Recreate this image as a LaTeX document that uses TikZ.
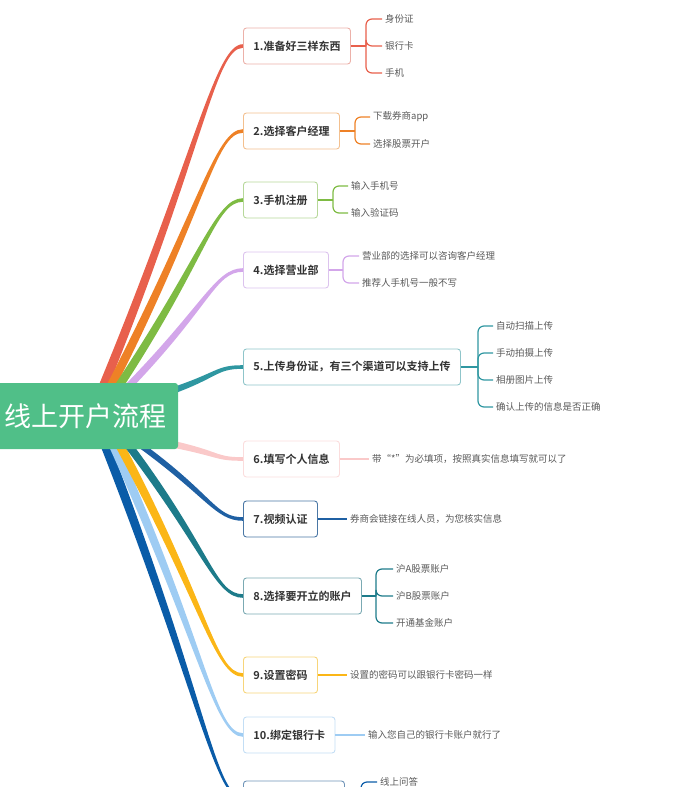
\documentclass[tikz,border=0pt]{standalone}
\usepackage{fontspec}
\setmainfont{Noto Sans CJK SC}[BoldFont={Noto Sans CJK SC Bold}]
\usetikzlibrary{calc,positioning,backgrounds}

\definecolor{hubc}{HTML}{50BF88}
\definecolor{c1}{HTML}{E8604C}\definecolor{b1}{HTML}{ECB1A9}
\definecolor{c2}{HTML}{EE8126}\definecolor{b2}{HTML}{F3C08F}
\definecolor{c3}{HTML}{7EBB43}\definecolor{b3}{HTML}{B7D89A}
\definecolor{c4}{HTML}{D3A6EA}\definecolor{b4}{HTML}{DCC3EE}
\definecolor{c5}{HTML}{2F97A1}\definecolor{b5}{HTML}{8FC5CA}
\definecolor{c6}{HTML}{FAC9C9}\definecolor{b6}{HTML}{FBDDDD}
\definecolor{c7}{HTML}{1F60A3}\definecolor{b7}{HTML}{4A77A5}
\definecolor{c8}{HTML}{1D7B8A}\definecolor{b8}{HTML}{7BAAB3}
\definecolor{c9}{HTML}{FBB617}\definecolor{b9}{HTML}{F7D57A}
\definecolor{c10}{HTML}{9ECCF3}\definecolor{b10}{HTML}{C3DEF5}
\definecolor{c11}{HTML}{0A5CA8}\definecolor{b11}{HTML}{6F94B8}

\tikzset{
  hub/.style={fill=hubc, text=white, rounded corners=3pt, minimum width=184pt,
    minimum height=66pt, inner sep=0pt, font=\fontsize{27}{30}\selectfont},
  stage/.style={draw=#1, fill=white, rounded corners=3pt, line width=0.9pt,
    minimum height=36pt, inner xsep=10pt, anchor=west, text=black!80,
    font=\fontsize{11}{13}\selectfont\bfseries},
  item/.style={anchor=west, inner xsep=3pt, text=black!65,
    font=\fontsize{9.5}{11}\selectfont},
  twig/.style={draw=#1, line width=1.2pt, rounded corners=6pt},
}

% tapered branch: colour, start, target node, half width at the start
\newcommand\limb[4]{%
  \fill[#1] ($(#2)+(#4)$)
    .. controls ($(#2)!0.7!(#3.west)+0.8*(#4)$) and ($(#3.west)+(-28,1.8)$) .. ($(#3.west)+(0,1.8)$)
    -- ($(#3.west)+(0,-1.8)$)
    .. controls ($(#3.west)+(-28,-1.8)$) and ($(#2)!0.7!(#3.west)-0.8*(#4)$) .. ($(#2)-(#4)$) -- cycle;}

\begin{document}
\begin{tikzpicture}[x=1pt,y=-1pt]
  \useasboundingbox (0,0) rectangle (674,787);

  % root
  \node[hub] (flow) at (86,416) {线上开户流程};

  % steps
  \node[stage=b1] (s1) at (243,46) {1.准备好三样东西};
  \node[stage=b2] (s2) at (243,131) {2.选择客户经理};
  \node[stage=b3] (s3) at (243,200) {3.手机注册};
  \node[stage=b4] (s4) at (243,270) {4.选择营业部};
  \node[stage=b5] (s5) at (243,367) {5.上传身份证，有三个渠道可以支持上传};
  \node[stage=b6] (s6) at (243,459) {6.填写个人信息};
  \node[stage=b7] (s7) at (243,519) {7.视频认证};
  \node[stage=b8] (s8) at (243,596) {8.选择要开立的账户};
  \node[stage=b9] (s9) at (243,675) {9.设置密码};
  \node[stage=b10] (s10) at (243,735) {10.绑定银行卡};
  \node[stage=b11, minimum width=101pt] (s11) at (243,799) {};

  % details
  \node[item] (s1a) at (382,19) {身份证};
  \node[item] (s1b) at (382,46) {银行卡};
  \node[item] (s1c) at (382,73) {手机};
  \node[item] (s2a) at (370,117) {下载券商app};
  \node[item] (s2b) at (370,144) {选择股票开户};
  \node[item] (s3a) at (348,186) {输入手机号};
  \node[item] (s3b) at (348,213) {输入验证码};
  \node[item] (s4a) at (359,256) {营业部的选择可以咨询客户经理};
  \node[item] (s4b) at (359,283) {推荐人手机号一般不写};
  \node[item] (s5a) at (493,326) {自动扫描上传};
  \node[item] (s5b) at (493,353) {手动拍摄上传};
  \node[item] (s5c) at (493,380) {相册图片上传};
  \node[item] (s5d) at (493,407) {确认上传的信息是否正确};
  \node[item] (s6a) at (369,459) {带“*”为必填项，按照真实信息填写就可以了};
  \node[item] (s7a) at (347,519) {券商会链接在线人员，为您核实信息};
  \node[item] (s8a) at (393,569) {沪A股票账户};
  \node[item] (s8b) at (393,596) {沪B股票账户};
  \node[item] (s8c) at (393,623) {开通基金账户};
  \node[item] (s9a) at (347,675) {设置的密码可以跟银行卡密码一样};
  \node[item] (s10a) at (365,735) {输入您自己的银行卡账户就行了};
  \node[item] (s11a) at (377,782) {线上问答};

  % brackets
  \coordinate (j1) at (366,46);
  \coordinate (j2) at (355,131);
  \coordinate (j3) at (333,200);
  \coordinate (j4) at (343,270);
  \coordinate (j5) at (478,367);
  \coordinate (j8) at (376,596);
  \coordinate (j11) at (361,799);
  \draw[twig=c1] (s1.east) -- (j1);
  \foreach \k in {a,b,c} \draw[twig=c1] (j1) |- (s1\k.west);
  \draw[twig=c2] (s2.east) -- (j2);
  \foreach \k in {a,b} \draw[twig=c2] (j2) |- (s2\k.west);
  \draw[twig=c3] (s3.east) -- (j3);
  \foreach \k in {a,b} \draw[twig=c3] (j3) |- (s3\k.west);
  \draw[twig=c4] (s4.east) -- (j4);
  \foreach \k in {a,b} \draw[twig=c4] (j4) |- (s4\k.west);
  \draw[twig=c5] (s5.east) -- (j5);
  \foreach \k in {a,b,c,d} \draw[twig=c5] (j5) |- (s5\k.west);
  \draw[twig=c6] (s6.east) -- (s6a.west);
  \draw[twig=c7] (s7.east) -- (s7a.west);
  \draw[twig=c8] (s8.east) -- (j8);
  \foreach \k in {a,b,c} \draw[twig=c8] (j8) |- (s8\k.west);
  \draw[twig=c9] (s9.east) -- (s9a.west);
  \draw[twig=c10] (s10.east) -- (s10a.west);
  \draw[twig=c11] (s11.east) -- (j11) |- (s11a.west);

  % branches from the root
  \begin{scope}[on background layer]
    \coordinate (r1) at (101,392);
    \coordinate (r2) at (108,392);
    \coordinate (r3) at (115,392);
    \coordinate (r4) at (123,392);
    \coordinate (r5) at (166,393);
    \coordinate (r6) at (172,444);
    \coordinate (r7) at (136,442);
    \coordinate (r8) at (126,442);
    \coordinate (r9) at (118,442);
    \coordinate (r10) at (112,442);
    \coordinate (r11) at (104,442);
    \limb{c1}{r1}{s1}{5,0}
    \limb{c2}{r2}{s2}{5,0}
    \limb{c3}{r3}{s3}{5,0}
    \limb{c4}{r4}{s4}{5,0}
    \limb{c5}{r5}{s5}{0,3.5}
    \limb{c6}{r6}{s6}{0,3.5}
    \limb{c11}{r11}{s11}{-5,0}
    \limb{c10}{r10}{s10}{-5,0}
    \limb{c9}{r9}{s9}{-5,0}
    \limb{c8}{r8}{s8}{-5,0}
    \limb{c7}{r7}{s7}{-5,0}
  \end{scope}
\end{tikzpicture}
\end{document}
